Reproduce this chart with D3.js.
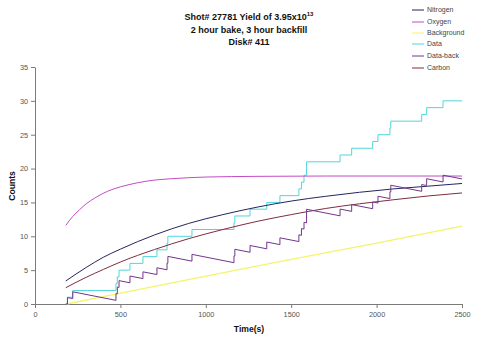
<!DOCTYPE html>
<html><head><meta charset="utf-8">
<script src="https://cdn.jsdelivr.net/npm/d3@7"></script>
<style>body{margin:0;background:#fff}svg{display:block}</style>
</head><body><svg id="c" width="500" height="342"></svg>
<script>
// ---- data ----
const seriesNames = ["Nitrogen","Oxygen","Background","Data","Data-back","Carbon"];
const xTicks = [0,500,1000,1500,2000,2500];
const yTicks = [0,5,10,15,20,25,30,35];

const nitrogenT = [180,300,400,500,700,900,1100,1300,1500,1700,1900,2100,2300,2500];
const nitrogenV = [3.4,5.4,6.9,8.1,10.2,11.9,13.2,14.3,15.2,15.9,16.5,17.0,17.4,17.8];

const carbonT = [180,300,400,500,700,900,1100,1300,1500,1700,1900,2100,2300,2500];
const carbonV = [2.4,3.95,5.1,6.2,8.05,9.65,11.0,12.2,13.2,14.1,14.8,15.4,15.95,16.4];

const oxygenT = [180,220,260,300,350,400,450,500,600,700,800,1000,1300,1700,2100,2500];
const oxygenV = [11.6,12.9,13.9,14.8,15.65,16.35,16.9,17.3,17.9,18.3,18.5,18.75,18.85,18.9,18.9,18.9];

const backgroundT = [185,500,1000,1500,2000,2500];
const backgroundV = [0.0,1.6,4.1,6.6,9.0,11.5];

const dataT = [180,190,221,474,482,492,556,632,714,773,778,919,1165,1170,1259,1357,1434,1545,1560,1575,1590,1786,1854,1977,2008,2078,2083,2264,2293,2389,2500];
const dataV = [0,1,2,3,4,5,6,7,8,9,10,11,12,13,14,15,16,17,18,19,21,22,23,24,25,26,27,28,29,30,30];

const dataBackT = [180,190,190,221,221,474,474,482,482,492,492,556,556,632,632,714,714,773,773,778,778,919,919,1165,1165,1170,1170,1259,1259,1357,1357,1434,1434,1545,1545,1560,1560,1575,1575,1590,1590,1786,1786,1854,1854,1977,1977,2008,2008,2078,2078,2083,2083,2264,2264,2293,2293,2389,2389,2500];
const dataBackV = [0,0,0.95,0.8,1.8,0.54,1.54,1.5,2.5,2.45,3.45,3.13,4.13,3.75,4.75,4.35,5.35,5.05,6.05,6.03,7.03,6.33,7.33,6.10,7.10,7.08,8.08,7.64,8.64,8.15,9.15,8.77,9.77,9.22,10.22,10.14,11.14,11.07,12.07,11.99,13.99,13.02,14.02,13.68,14.68,14.07,15.07,14.91,15.91,15.57,16.57,16.54,17.54,16.64,17.64,17.50,18.50,18.02,19.02,18.47];

const colors = {"Nitrogen":"#25255e","Oxygen":"#c24cc4","Background":"#f4f46a","Data":"#4fd6dc","Data-back":"#74368a","Carbon":"#7e2d3c"};

// ---- chart ----
const svg = d3.select("#c");
const x = d3.scaleLinear().domain([0,2500]).range([35,462]);
const y = d3.scaleLinear().domain([0,35]).range([304,67]);
const font = "Arial, 'Liberation Sans', sans-serif";

// axes
const xAxis = svg.append("g").attr("transform","translate(0,304)")
  .call(d3.axisBottom(x).tickValues(xTicks).tickFormat(d3.format("d")).tickSize(4).tickPadding(4).tickSizeOuter(0));
const yAxis = svg.append("g").attr("transform","translate(35,0)")
  .call(d3.axisLeft(y).tickValues(yTicks).tickFormat(d3.format("d")).tickSize(4).tickPadding(3).tickSizeOuter(0));
[xAxis,yAxis].forEach(g=>{
  g.selectAll("path,line").attr("stroke","#7a7a7a");
  g.selectAll("text").attr("fill","#555").style("font-family",font).style("font-size","7.3px");
});

const line = d3.line().x(d=>x(d[0])).y(d=>y(d[1]));
function draw(T,V,name,curve,w){
  svg.append("path").datum(T.map((t,i)=>[t,V[i]]))
    .attr("fill","none").attr("stroke",colors[name]).attr("stroke-width",w||1)
    .attr("d", line.curve(curve||d3.curveLinear));
}
draw(backgroundT,backgroundV,"Background",d3.curveLinear,1.3);
draw(dataT,dataV,"Data",d3.curveStepAfter,1);
draw(oxygenT,oxygenV,"Oxygen",d3.curveMonotoneX,1);
draw(nitrogenT,nitrogenV,"Nitrogen",d3.curveMonotoneX,1);
draw(carbonT,carbonV,"Carbon",d3.curveMonotoneX,1);
draw(dataBackT,dataBackV,"Data-back",d3.curveLinear,1);

// titles
const title = svg.append("g").style("font-family",font).style("font-weight","bold").style("font-size","9px").attr("fill","#111").attr("text-anchor","middle");
const t1 = title.append("text").attr("x",249).attr("y",20);
t1.append("tspan").text("Shot# 27781 Yield of 3.95x10");
t1.append("tspan").attr("dy",-4).style("font-size","6px").text("13");
title.append("text").attr("x",249).attr("y",33).text("2 hour bake, 3 hour backfill");
title.append("text").attr("x",249).attr("y",45).text("Disk# 411");

svg.append("text").attr("x",249).attr("y",332).attr("text-anchor","middle")
  .style("font-family",font).style("font-weight","bold").style("font-size","8.6px").attr("fill","#111").text("Time(s)");
svg.append("text").attr("transform","translate(15,186) rotate(-90)").attr("text-anchor","middle")
  .style("font-family",font).style("font-weight","bold").style("font-size","8.6px").attr("fill","#111").text("Counts");

// legend
const legY = [10,22,33,44,56,68];
const leg = svg.append("g");
seriesNames.forEach((n,i)=>{
  leg.append("line").attr("x1",412).attr("x2",424).attr("y1",legY[i]).attr("y2",legY[i])
    .attr("stroke",colors[n]).attr("stroke-width",1);
  leg.append("text").attr("x",427).attr("y",legY[i]).attr("dy","0.35em")
    .style("font-family",font).style("font-size","7px").attr("fill","#444").text(n);
});
</script></body></html>
